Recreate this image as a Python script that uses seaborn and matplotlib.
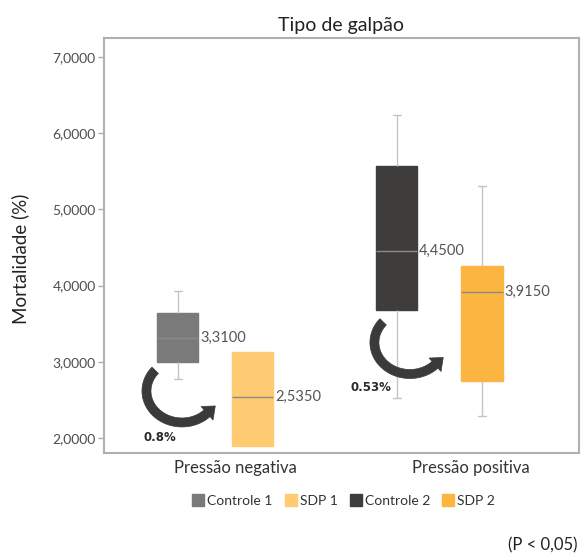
import numpy as np
import pandas as pd
import matplotlib
matplotlib.use("Agg")
import matplotlib.pyplot as plt
import matplotlib.transforms as mtransforms
from matplotlib.patches import Polygon
from matplotlib.lines import Line2D
import seaborn as sns

# ---- data -------------------------------------------------------------
series = ["Controle 1", "SDP 1", "Controle 2", "SDP 2"]
groups = ["Pressão negativa", "Pressão positiva"]
# five-number summaries: min, Q1, median, Q3, max
controle_1 = [2.78, 3.00, 3.31, 3.64, 3.93]
sdp_1 = [1.89, 1.89, 2.535, 3.13, 3.13]
controle_2 = [2.53, 3.68, 4.45, 5.57, 6.24]
sdp_2 = [2.29, 2.75, 3.915, 4.26, 5.31]
median_labels = ["3,3100", "2,5350", "4,4500", "3,9150"]
reductions = ["0.8%", "0.53%"]
y_ticks = [2, 3, 4, 5, 6, 7]
y_tick_labels = ["2,0000", "3,0000", "4,0000", "5,0000", "6,0000", "7,0000"]
colors = ["#7a7a7a", "#fecb72", "#3e3d3b", "#fbb540"]

# ---- layout -----------------------------------------------------------
box_pos = [-0.242, 0.076, 0.686, 1.047]
group_ticks = [0, 1]
box_width = 0.174

sns.set_style("white")
plt.rcParams["font.family"] = ["Lato", "DejaVu Sans"]

stats = [controle_1, sdp_1, controle_2, sdp_2]
rows = []
for name, vals, xp in zip(series, stats, box_pos):
    for v in vals:
        rows.append({"pos": xp, "valor": v, "serie": name})
df = pd.DataFrame(rows)

fig = plt.figure(figsize=(5.82, 5.56), dpi=100)
ax = fig.add_axes([104 / 582, 103 / 556, 475 / 582, 415 / 556])

native = np.min(np.diff(sorted(box_pos)))
sns.boxplot(
    data=df, x="pos", y="valor", hue="serie", hue_order=series,
    palette=dict(zip(series, colors)), native_scale=True, dodge=False,
    width=box_width / native, whis=(0, 100), fill=True, legend=False,
    saturation=1, linecolor="#c4c4c4", linewidth=1.0, ax=ax,
    medianprops={"color": "#8a8a8a", "linewidth": 1.0},
)

# narrow caps, hide zero-length whiskers, soft box edges
for cont, col in zip(ax.containers, colors):
    for cap in cont.caps:
        xd = cap.get_xdata()
        mid = np.mean(xd)
        cap.set_xdata([mid - 0.016, mid + 0.016])
    for wh, cap in zip(cont.whiskers, cont.caps):
        yd = wh.get_ydata()
        if abs(yd[1] - yd[0]) < 1e-9:
            wh.set_visible(False)
            cap.set_visible(False)
    for box in cont.boxes:
        box.set_edgecolor(col)

# median value labels
for xp, vals, lab in zip(box_pos, stats, median_labels):
    ax.text(xp + box_width / 2 + 0.008, vals[2], lab, ha="left", va="center",
            fontsize=10.5, color="#555555")

ax.set_xlim(-0.555, 1.458)
ax.set_ylim(1.803, 7.249)
ax.set_yticks(y_ticks)
ax.set_yticklabels(y_tick_labels)
ax.set_xticks(group_ticks)
ax.set_xticklabels(groups)
ax.tick_params(axis="y", direction="out", length=4, width=1, color="#aaaaaa",
               labelsize=10, labelcolor="#4d4d4d", pad=2, left=True)
ax.tick_params(axis="x", length=0, labelsize=12, labelcolor="#333333", pad=5)
ax.set_xlabel("")
ax.set_ylabel("Mortalidade (%)", fontsize=13.5, color="#222222")
ax.yaxis.set_label_coords(-0.158, 0.4675)
ax.set_title("Tipo de galpão", fontsize=14, color="#222222", pad=5)
for sp in ax.spines.values():
    sp.set_color("#b0b0b0")
    sp.set_linewidth(1.5)


# curved arrows showing the reduction from control to SDP
def curved_arrow(cx, cy, rx=35.5, ry=31.5, t0=139, t1=315,
                 shaft=9.0, head_w=18.0, head_len=11.0, color="#3a3a3a"):
    th = np.radians(np.linspace(t0, t1, 80))
    px = rx * np.cos(th)
    py = ry * np.sin(th)
    tx = -rx * np.sin(th)
    ty = ry * np.cos(th)
    n = np.hypot(tx, ty)
    tx, ty = tx / n, ty / n
    nx, ny = ty, -tx
    outer = np.column_stack([px + nx * shaft / 2, py + ny * shaft / 2])
    inner = np.column_stack([px - nx * shaft / 2, py - ny * shaft / 2])
    ex, ey = px[-1], py[-1]
    head = np.array([
        [ex + nx[-1] * head_w / 2, ey + ny[-1] * head_w / 2],
        [ex + tx[-1] * head_len, ey + ty[-1] * head_len],
        [ex - nx[-1] * head_w / 2, ey - ny[-1] * head_w / 2],
    ])
    verts = np.vstack([outer, head, inner[::-1]]) / 100.0
    trans = fig.dpi_scale_trans + mtransforms.ScaledTranslation(cx, cy, ax.transData)
    ax.add_patch(Polygon(verts, closed=True, facecolor=color, edgecolor=color,
                         linewidth=0.5, transform=trans, zorder=5))


curved_arrow(-0.2246, 2.617)
curved_arrow(0.7415, 3.253)
ax.text(-0.318, 2.0, reductions[0], ha="center", va="center", fontsize=8.5,
        fontweight="bold", color="#2b2b2b", family=["DejaVu Sans"])
ax.text(0.578, 2.656, reductions[1], ha="center", va="center", fontsize=8.5,
        fontweight="bold", color="#2b2b2b", family=["DejaVu Sans"])

handles = [Line2D([], [], marker="s", linestyle="none", markersize=8.5,
                  markerfacecolor=c, markeredgecolor=c) for c in colors]
fig.legend(handles, series, loc="center", bbox_to_anchor=(344 / 582, 1 - 501 / 556),
           ncol=4, frameon=False, fontsize=10, handlelength=0.8,
           handletextpad=0.25, columnspacing=0.9, labelcolor="#333333")

fig.text(578 / 582, 1 - 545.5 / 556, "(P < 0,05)", ha="right", va="center",
         fontsize=12, color="#222222")

fig.savefig("out.png", dpi=100)
